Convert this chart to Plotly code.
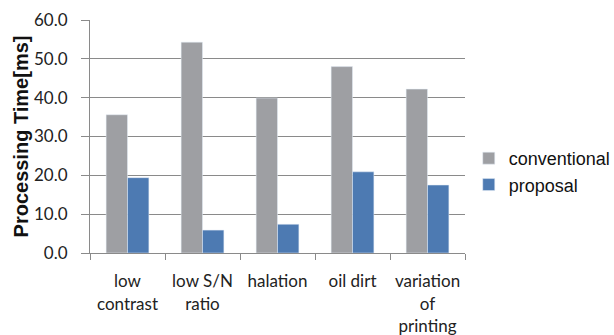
import plotly.graph_objects as go

categories = ["low<br>contrast", "low S/N<br>ratio", "halation", "oil dirt", "variation<br>of<br>printing"]
conventional = [35.6, 54.3, 39.9, 48.0, 42.2]
proposal = [19.4, 5.9, 7.4, 20.9, 17.5]
y_ticks = [0, 10, 20, 30, 40, 50, 60]
y_tick_labels = ["0.0", "10.0", "20.0", "30.0", "40.0", "50.0", "60.0"]

fig = go.Figure()
fig.add_trace(go.Bar(x=categories, y=conventional, name="conventional", marker_color="#9e9fa3"))
fig.add_trace(go.Bar(x=categories, y=proposal, name="proposal", marker_color="#4d7ab2"))

grid = "#8a8a8a"
fig.update_layout(
    width=614, height=335,
    margin=dict(l=90, r=149, t=20, b=82, autoexpand=False),
    paper_bgcolor="white", plot_bgcolor="white",
    barmode="group", bargap=0.43, bargroupgap=0,
    showlegend=True,
    legend=dict(x=1.01, xanchor="left", y=0.35, yanchor="middle",
                font=dict(family="Liberation Sans", size=18, color="#111"),
                tracegroupgap=0, itemwidth=30, bgcolor="rgba(0,0,0,0)"),
)
fig.update_xaxes(
    tickson="boundaries", ticks="outside", ticklen=6, tickcolor=grid,
    showline=True, linecolor=grid, linewidth=1,
    tickfont=dict(family="Lato", size=17, color="#222"),
    tickangle=0, automargin=False, ticklabelstandoff=13,
    showgrid=False,
)
fig.update_yaxes(
    range=[0, 60], tickvals=y_ticks, ticktext=y_tick_labels,
    ticks="outside", ticklen=8, tickcolor=grid,
    showline=True, linecolor=grid, linewidth=1,
    showgrid=True, gridcolor=grid, gridwidth=1,
    zeroline=False, automargin=False, ticklabelstandoff=10,
    tickfont=dict(family="Lato", size=17, color="#222"),
    title=dict(text="Processing Time[ms]", standoff=0,
               font=dict(family="Liberation Sans", size=20, color="#111", weight="bold")),
)
fig.write_html("out.html", post_script="document.body.style.margin='0';",
               config={"displayModeBar": False})
